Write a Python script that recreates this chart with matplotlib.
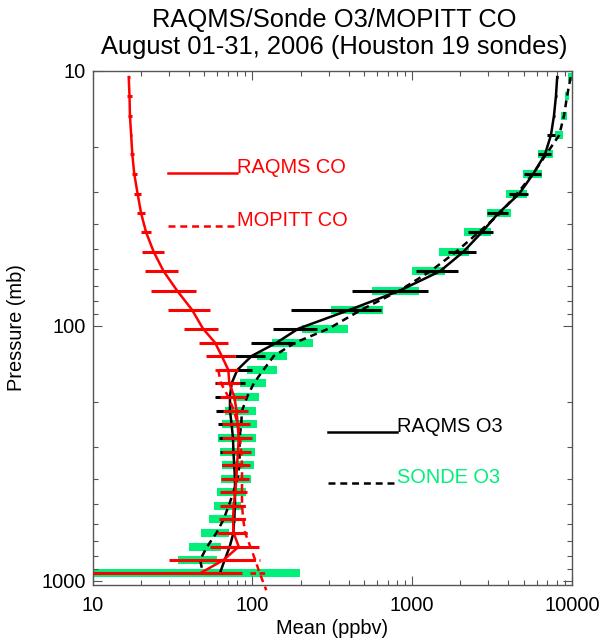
import numpy as np
import matplotlib
matplotlib.use('Agg')
import matplotlib.pyplot as plt
from matplotlib.ticker import FixedLocator, FixedFormatter, LogLocator, NullFormatter

plt.rcParams['font.family'] = ['Liberation Sans', 'DejaVu Sans']
plt.rcParams['lines.scale_dashes'] = False

# ---------------- data ----------------
pressure = np.array([10.6, 12.6, 15.0, 17.9, 21.3, 25.4, 30.4, 36.3, 43.1, 51.4, 61.2, 72.8,
                     86.6, 102.7, 116.6, 131.5, 149.2, 168.2, 189.8, 215.4, 243.6, 275.7,
                     312.0, 351.8, 398.1, 450.2, 508.1, 574.4, 650.1, 735.5, 829.5, 935.4])

sonde_o3_mean = np.array([9800, 9310, 8910, 8316, 6886, 5690, 4530, 3536, 2600, 1875, 1297, 832,
                          481, 300, 185, 136, 117, 102, 92.7, 86, 85, 83, 83, 83, 80.5, 76, 71,
                          66, 59.5, 52, 47, 49])
sonde_o3_std = np.array([400, 285, 420, 500, 740, 760, 670, 590, 495, 400, 305, 275, 171, 97,
                         53, 29, 25, 19, 17.5, 19, 21, 22, 20.5, 19, 17, 15.7, 13.5, 12.6, 12,
                         11.8, 12.7, 150])

raqms_o3_mean = np.array([8075, 7930, 7710, 7380, 6770, 5715, 4670, 3450, 2718, 2084, 1490, 838,
                          407, 194, 141.6, 98.8, 80.3, 74.1, 72.3, 72.3, 74, 75.5, 76, 76.8,
                          77.7, 77.7, 77.7, 76.8, 76, 72, 67, 62.5])
raqms_o3_std = np.array([50, 80, 150, 440, 660, 690, 660, 530, 500, 405, 440, 420, 234, 59, 44,
                         21, 18.5, 16, 14, 13, 13, 13.5, 13.4, 12.8, 12.5, 12.5, 12, 12, 12, 12,
                         12, 12.5])

raqms_co_mean = np.array([16.8, 17.0, 17.1, 17.4, 17.7, 18.2, 19.1, 20.1, 21.6, 24.1, 27.8, 33.7,
                          41.8, 49.0, 58.3, 64.2, 70.6, 71.6, 76.9, 79.5, 80.8, 82.0, 81.2, 80.0,
                          79.3, 78.0, 76.3, 75.5, 76.3, 82.0, 66.0, 47.0])
raqms_co_std = np.array([0.2, 0.5, 0.5, 0.3, 0.5, 0.7, 0.85, 1.05, 1.45, 3.7, 6.4, 10.7, 12.2,
                         11.5, 12, 13, 10, 12.3, 14.4, 14, 16, 17.7, 17, 16, 16, 15, 13.7, 13.7,
                         16, 28, 36, 38.5])

mopitt_p = np.array([149.2, 168.2, 189.8, 215.4, 243.6, 275.7, 312.0, 351.8, 398.1, 450.2,
                     508.1, 574.4, 650.1, 735.5, 829.5, 935.4, 1090.0])
mopitt_co_mean = np.array([61, 63.6, 70.5, 76.5, 81, 83.6, 85, 86, 86, 86, 86, 87.5, 90, 97,
                           104, 111, 122])
mopitt_co_std = np.array([3, 3, 3, 3, 3, 3, 3, 3, 3, 3.5, 4.5, 4, 3, 4, 8, 14, 0])

xticks = [10, 100, 1000, 10000]
xtick_labels = ['10', '100', '1000', '10000']
yticks = [10, 100, 1000]
ytick_labels = ['10', '100', '1000']

title_lines = ['RAQMS/Sonde O3/MOPITT CO', 'August 01-31, 2006 (Houston 19 sondes)']

# ---------------- figure ----------------
GREEN = '#00F07A'
RED = '#FF0000'

fig = plt.figure(figsize=(6.02, 6.39), dpi=100)
ax = fig.add_axes([0.154, 0.0845, 0.7962, 0.8049])
ax.set_xscale('log')
ax.set_yscale('log')
ax.set_xlim(10, 10000)
ax.set_ylim(1040, 10)

# sonde O3 std bars (green)
ax.hlines(pressure, np.clip(sonde_o3_mean - sonde_o3_std, 1, None), sonde_o3_mean + sonde_o3_std,
          colors=GREEN, lw=5.8, zorder=1, capstyle='butt')
# sonde O3 mean (black dashed)
ax.plot(sonde_o3_mean, pressure, color='black', lw=1.8, dashes=(5, 3.5), zorder=2)
# RAQMS O3
ax.plot(raqms_o3_mean, pressure, color='black', lw=1.8, zorder=3)
ax.hlines(pressure, np.clip(raqms_o3_mean - raqms_o3_std, 1, None), raqms_o3_mean + raqms_o3_std,
          colors='black', lw=2.2, zorder=3)
# RAQMS CO
ax.hlines(pressure, np.clip(raqms_co_mean - raqms_co_std, 1, None), raqms_co_mean + raqms_co_std,
          colors=RED, lw=2.2, zorder=4)
ax.plot(raqms_co_mean, pressure, color=RED, lw=1.8, zorder=5)
# MOPITT CO
m = mopitt_co_std > 0
ax.hlines(mopitt_p[m], mopitt_co_mean[m] - mopitt_co_std[m], mopitt_co_mean[m] + mopitt_co_std[m],
          colors=RED, lw=2.0, linestyles=[(0, (4, 2.5))], zorder=5)
ax.plot(mopitt_co_mean, mopitt_p, color=RED, lw=1.8, dashes=(5, 3.5), zorder=5, clip_on=False)

# ticks
ax.xaxis.set_major_locator(FixedLocator(xticks))
ax.xaxis.set_major_formatter(FixedFormatter(xtick_labels))
ax.yaxis.set_major_locator(FixedLocator(yticks))
ax.yaxis.set_major_formatter(FixedFormatter(ytick_labels))
ax.xaxis.set_minor_locator(LogLocator(base=10, subs=np.arange(2, 10)))
ax.yaxis.set_minor_locator(LogLocator(base=10, subs=np.arange(2, 10)))
ax.xaxis.set_minor_formatter(NullFormatter())
ax.yaxis.set_minor_formatter(NullFormatter())
ax.tick_params(which='both', direction='in', top=True, right=True, colors='#555555',
               labelcolor='black', labelsize=14.4, width=0.8)
ax.tick_params(which='major', length=6.5)
ax.tick_params(which='minor', length=3.6)
ax.tick_params(axis='x', pad=8)
ax.tick_params(axis='y', pad=5)
for s in ax.spines.values():
    s.set_color('#555555')
    s.set_linewidth(1.0)

ax.set_xlabel('Mean (ppbv)', fontsize=14.4)
ax.set_ylabel('Pressure (mb)', fontsize=14.4)
ax.xaxis.set_label_coords(0.5, -0.0836)
ax.xaxis.label.set_verticalalignment('center')
ax.yaxis.set_label_coords(-0.158, 0.5)
ax.yaxis.label.set_verticalalignment('center')

# in-plot legend
def legend_entry(x0, x1, y, text, tcolor, lcolor, dashed):
    kw = dict(dashes=(5, 3.5)) if dashed else {}
    ax.plot([x0, x1], [y, y], transform=ax.transAxes, color=lcolor, lw=1.8, **kw)
    ax.text(x1, y, text, transform=ax.transAxes, color=tcolor, fontsize=14.4,
            ha='left', va='baseline')

legend_entry(0.157, 0.301, 0.801, 'RAQMS CO', RED, RED, False)
legend_entry(0.157, 0.301, 0.698, 'MOPITT CO', RED, RED, True)
legend_entry(0.491, 0.635, 0.298, 'RAQMS O3', 'black', 'black', False)
legend_entry(0.491, 0.635, 0.1977, 'SONDE O3', GREEN, 'black', True)

fig.text(0.556, 0.968, title_lines[0], ha='center', va='center', fontsize=18.4)
fig.text(0.556, 0.927, title_lines[1], ha='center', va='center', fontsize=18.4)

fig.savefig('out.png', dpi=100)
